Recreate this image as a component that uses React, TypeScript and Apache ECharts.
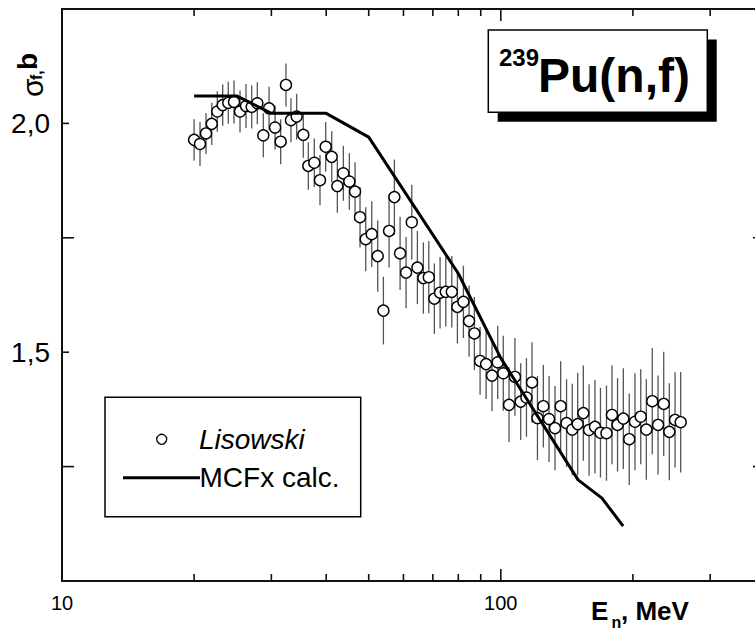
import React, { useEffect, useRef } from "react";
import * as echarts from "echarts";

// ---- Data ----
const energies = [
  20.0, 20.63, 21.29, 21.94, 22.59, 23.24, 23.93, 24.66, 25.45, 26.26,
  27.06, 27.87, 28.76, 29.64, 30.59, 31.5, 32.39, 33.25, 34.26, 35.47,
  36.42, 37.58, 38.72, 39.9, 41.18, 42.41, 43.77, 45.17, 46.54, 47.77,
  49.22, 50.8, 52.42, 54.0, 55.64, 57.21, 58.95, 60.83, 62.68, 64.55,
  66.61, 68.53, 70.56, 72.71, 74.92, 77.32, 79.63, 82.17, 84.66, 87.05,
  89.7, 92.57, 95.49, 98.39, 101.3, 104.4, 107.7, 111.0, 114.4, 117.8,
  121.2, 125.0, 128.8, 132.9, 136.9, 141.2, 145.5, 149.7, 154.2, 158.9,
  163.9, 168.7, 174.1, 179.2, 184.5, 190.2, 196.2, 202.2, 208.4, 214.6,
  221.4, 228.2, 235.1, 242.1, 249.5, 257.0,
];
const sigma = [
  1.964, 1.955, 1.978, 1.999, 2.026, 2.04, 2.045, 2.047, 2.026, 2.038,
  2.036, 2.044, 1.974, 2.033, 1.991, 1.96, 2.084, 2.007, 2.015, 1.975,
  1.907, 1.914, 1.876, 1.949, 1.927, 1.863, 1.891, 1.873, 1.851, 1.795,
  1.747, 1.758, 1.71, 1.591, 1.765, 1.839, 1.716, 1.674, 1.784, 1.685,
  1.662, 1.664, 1.617, 1.63, 1.632, 1.632, 1.599, 1.61, 1.568, 1.541,
  1.481, 1.474, 1.449, 1.478, 1.454, 1.385, 1.446, 1.392, 1.401, 1.434,
  1.356, 1.382, 1.354, 1.334, 1.382, 1.345, 1.331, 1.343, 1.367, 1.33,
  1.337, 1.324, 1.323, 1.363, 1.341, 1.355, 1.31, 1.348, 1.359, 1.331,
  1.393, 1.341, 1.387, 1.326, 1.352, 1.347,
];
const sigmaErr = [
  0.045, 0.048, 0.045, 0.046, 0.044, 0.045, 0.046, 0.047, 0.046, 0.048,
  0.047, 0.046, 0.048, 0.047, 0.048, 0.049, 0.047, 0.048, 0.05, 0.05,
  0.052, 0.053, 0.055, 0.054, 0.056, 0.058, 0.06, 0.062, 0.064, 0.066,
  0.07, 0.072, 0.078, 0.074, 0.08, 0.082, 0.08, 0.078, 0.082, 0.08,
  0.078, 0.079, 0.077, 0.078, 0.076, 0.078, 0.08, 0.079, 0.078, 0.08,
  0.074, 0.076, 0.078, 0.08, 0.082, 0.082, 0.085, 0.084, 0.086, 0.088,
  0.092, 0.09, 0.094, 0.092, 0.098, 0.096, 0.1, 0.112, 0.104, 0.1,
  0.102, 0.098, 0.104, 0.108, 0.102, 0.11, 0.1, 0.106, 0.104, 0.11,
  0.116, 0.108, 0.114, 0.106, 0.104, 0.11,
];
const calcEnergies = [20, 25, 30, 40, 50, 80, 100, 150, 170, 190];
const calcSigma = [2.06, 2.06, 2.022, 2.022, 1.97, 1.672, 1.487, 1.221, 1.181, 1.12];

const xMajorTicks = [10, 100];
const xMinorTicks = [20, 30, 40, 50, 60, 70, 80, 90, 200, 300];
const xLabelValues = [10, 100];
const xTickLabels = ["10", "100"];
const yShortTicks = [1.5, 2.0];
const yLongTicks = [1.25, 1.75];
const yLabelValues = [1.5, 2.0];
const yTickLabels = ["1,5", "2,0"];

const X_MIN = 10;
const X_MAX = 400;
const Y_MIN = 1.0;
const Y_MAX = 2.25;

const FONT = "'Liberation Sans', Arial, Helvetica, sans-serif";

export default function App() {
  const ref = useRef<HTMLDivElement>(null);

  useEffect(() => {
    if (!ref.current) return;
    const chart = echarts.init(ref.current, undefined, { renderer: "svg" });

    // tick marks: [x, y, length, side]  side 0 bottom,1 top,2 left,3 right
    const tickData: number[][] = [];
    xMajorTicks.forEach((v) => {
      tickData.push([v, Y_MIN, 12, 0]);
      tickData.push([v, Y_MAX, 12, 1]);
    });
    xMinorTicks.forEach((v) => {
      tickData.push([v, Y_MIN, 7, 0]);
      tickData.push([v, Y_MAX, 7, 1]);
    });
    yShortTicks.forEach((v) => {
      tickData.push([X_MIN, v, 7, 2]);
      tickData.push([X_MAX, v, 7, 3]);
    });
    yLongTicks.forEach((v) => {
      tickData.push([X_MIN, v, 12, 2]);
      tickData.push([X_MAX, v, 12, 3]);
    });

    const txt = (
      text: string,
      x: number,
      y: number,
      size: number,
      weight: string = "normal",
      style: string = "normal",
      family: string = FONT
    ) => ({
      type: "text",
      x,
      y,
      silent: true,
      style: {
        text,
        fill: "#000",
        fontSize: size,
        fontWeight: weight,
        fontStyle: style,
        fontFamily: family,
        align: "left",
        verticalAlign: "middle",
      },
    });

    const option: any = {
      animation: false,
      backgroundColor: "#fff",
      grid: {
        left: 62,
        top: 9,
        width: 703,
        height: 572,
        show: true,
        borderColor: "#111",
        borderWidth: 2,
        backgroundColor: "transparent",
        containLabel: false,
        outerBoundsMode: "none",
      },
      xAxis: {
        type: "log",
        logBase: 10,
        min: X_MIN,
        max: X_MAX,
        axisLine: { show: false },
        axisTick: { show: false },
        splitLine: { show: false },
        minorTick: { show: false },
        axisLabel: {
          show: true,
          margin: 12,
          fontSize: 20,
          color: "#000",
          fontFamily: FONT,
          showMinLabel: true,
          showMaxLabel: true,
          formatter: (v: number) => {
            const i = xLabelValues.findIndex((t) => Math.abs(t - v) < 1e-6 * t);
            return i >= 0 ? xTickLabels[i] : "";
          },
        },
      },
      yAxis: {
        type: "value",
        min: Y_MIN,
        max: Y_MAX,
        interval: 0.25,
        axisLine: { show: false },
        axisTick: { show: false },
        splitLine: { show: false },
        axisLabel: {
          show: true,
          margin: 12,
          fontSize: 28,
          color: "#000",
          fontFamily: FONT,
          verticalAlign: "middle",
          padding: [48, 0, 0, 0],
          formatter: (v: number) => {
            const i = yLabelValues.findIndex((t) => Math.abs(t - v) < 1e-6);
            return i >= 0 ? yTickLabels[i] : "";
          },
        },
      },
      series: [
        {
          type: "custom",
          name: "ticks",
          silent: true,
          clip: false,
          z: 1,
          encode: { x: 0, y: 1 },
          data: tickData,
          renderItem: (_p: any, api: any) => {
            const pt = api.coord([api.value(0), api.value(1)]);
            const len = api.value(2);
            const side = api.value(3);
            let x2 = pt[0];
            let y2 = pt[1];
            if (side === 0) y2 = pt[1] - len;
            else if (side === 1) y2 = pt[1] + len;
            else if (side === 2) x2 = pt[0] + len;
            else x2 = pt[0] - len;
            return {
              type: "line",
              shape: { x1: pt[0], y1: pt[1], x2, y2 },
              style: { stroke: "#111", lineWidth: 1.6 },
            };
          },
        },
        {
          type: "custom",
          name: "errors",
          silent: true,
          z: 2,
          encode: { x: 0, y: 1 },
          data: energies.map((e, i) => [e, sigma[i], sigmaErr[i]]),
          renderItem: (_p: any, api: any) => {
            const e = api.value(0);
            const s = api.value(1);
            const d = api.value(2);
            const a = api.coord([e, s + d]);
            const b = api.coord([e, s - d]);
            return {
              type: "line",
              shape: { x1: a[0], y1: a[1], x2: b[0], y2: b[1] },
              style: { stroke: "#555", lineWidth: 1.3 },
            };
          },
        },
        {
          type: "scatter",
          name: "Lisowski",
          z: 3,
          symbol: "circle",
          symbolSize: 11,
          itemStyle: { color: "#fff", borderColor: "#000", borderWidth: 1.4, opacity: 1 },
          data: energies.map((e, i) => [e, sigma[i]]),
        },
        {
          type: "line",
          name: "MCFx calc.",
          z: 4,
          symbol: "none",
          lineStyle: { color: "#000", width: 3 },
          data: calcEnergies.map((e, i) => [e, calcSigma[i]]),
        },
      ],
      graphic: [
        // title box with shadow
        {
          type: "rect",
          silent: true,
          z: 10,
          shape: { x: 497.7, y: 39.4, width: 219, height: 82.3 },
          style: { fill: "#000" },
        },
        {
          type: "rect",
          silent: true,
          z: 11,
          shape: { x: 488.3, y: 30, width: 219, height: 82.3 },
          style: { fill: "#fff", stroke: "#000", lineWidth: 1.5 },
        },
        { ...txt("239", 499, 57, 24, "bold"), z: 12 },
        { ...txt("Pu(n,f)", 538, 75, 48, "bold"), z: 12 },
        // legend
        {
          type: "rect",
          silent: true,
          z: 10,
          shape: { x: 105, y: 397.3, width: 255.7, height: 119.4 },
          style: { fill: "#fff", stroke: "#000", lineWidth: 1.5 },
        },
        {
          type: "circle",
          silent: true,
          z: 11,
          shape: { cx: 161.7, cy: 439.3, r: 5 },
          style: { fill: "#fff", stroke: "#000", lineWidth: 1.3 },
        },
        { ...txt("Lisowski", 199, 439.5, 28, "normal", "italic"), z: 11 },
        {
          type: "line",
          silent: true,
          z: 11,
          shape: { x1: 123, y1: 477.7, x2: 200, y2: 477.7 },
          style: { stroke: "#000", lineWidth: 3 },
        },
        { ...txt("MCFx calc.", 199.5, 477, 28), z: 11 },
        // x axis title
        { ...txt("E", 591, 611, 26, "bold"), z: 11 },
        { ...txt("n", 611.5, 622.5, 16, "bold"), z: 11 },
        { ...txt(", MeV", 621, 611, 26, "bold"), z: 11 },
        // y axis title (rotated)
        {
          type: "group",
          x: 37,
          y: 97,
          rotation: Math.PI / 2,
          z: 11,
          children: [
            txt("\u03c3", 0, -4.4, 30),
            txt("f,", 17, -0.5, 16, "bold"),
            txt("b", 27, -9.7, 28, "bold"),
          ],
        },
      ],
    };

    chart.setOption(option);
    return () => chart.dispose();
  }, []);

  return (
    <div
      ref={ref}
      style={{
        position: "fixed",
        left: 0,
        top: 0,
        width: 755,
        height: 630,
        overflow: "hidden",
        background: "#fff",
      }}
    />
  );
}
